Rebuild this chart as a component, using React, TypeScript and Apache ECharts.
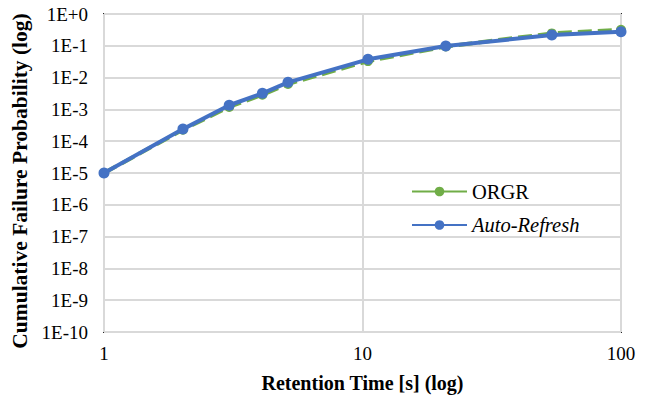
import React, { useEffect, useRef } from "react";
import * as echarts from "echarts";

const retentionTimes = [1, 2.02, 3.05, 4.1, 5.15, 10.5, 21, 54, 100];
const orgrValues = [1e-5, 2.3e-4, 1.2e-3, 2.9e-3, 6.3e-3, 0.033, 0.095, 0.245, 0.32];
const autoRefreshValues = [1e-5, 2.4e-4, 1.35e-3, 3.2e-3, 7.1e-3, 0.0376, 0.098, 0.218, 0.277];
const seriesNames = ["ORGR", "Auto-Refresh"];
const xTitle = "Retention Time [s] (log)";
const yTitle = "Cumulative Failure Probability (log)";

const FONT = "Liberation Serif";

export default function App() {
  const ref = useRef<HTMLDivElement>(null);
  useEffect(() => {
    if (!ref.current) return;
    const chart = echarts.init(ref.current, undefined, { renderer: "svg" });
    const fmtY = (v: number) => {
      const e = Math.round(Math.log10(v));
      return "1E" + (e >= 0 ? "+" : "") + e;
    };
    chart.setOption({
      animation: false,
      textStyle: { fontFamily: FONT },
      grid: {
        left: 104,
        right: 25,
        top: 14,
        bottom: 68,
        show: true,
        borderColor: "#262626",
        borderWidth: 2,
        backgroundColor: "transparent",
      },
      legend: {
        orient: "vertical",
        left: 406,
        top: 176,
        itemWidth: 55,
        itemHeight: 12,
        itemGap: 13,
        textStyle: { fontFamily: FONT, fontSize: 20.5, color: "#000" },
        data: [
          { name: seriesNames[0], lineStyle: { type: "solid" } },
          { name: seriesNames[1], textStyle: { fontStyle: "italic", fontFamily: FONT, fontSize: 20.5, color: "#000" } },
        ],
      },
      xAxis: {
        type: "log",
        logBase: 10,
        min: 1,
        max: 100,
        interval: 1,
        name: xTitle,
        nameLocation: "middle",
        nameGap: 41,
        nameTextStyle: { fontFamily: FONT, fontSize: 20, fontWeight: "bold", color: "#000" },
        axisLine: { show: false },
        axisTick: { show: false },
        axisLabel: { fontFamily: FONT, fontSize: 19, color: "#000", margin: 12 },
        splitLine: { show: true, lineStyle: { color: "#d9d9d9", width: 2 } },
      },
      yAxis: {
        type: "log",
        logBase: 10,
        min: 1e-10,
        max: 1,
        interval: 1,
        name: yTitle,
        nameLocation: "middle",
        nameGap: 70,
        nameTextStyle: { fontFamily: FONT, fontSize: 21.5, fontWeight: "bold", color: "#000", padding: [0, 16, 0, 0] },
        axisLine: { show: false },
        axisTick: { show: false },
        axisLabel: { fontFamily: FONT, fontSize: 19, color: "#000", margin: 16, formatter: fmtY },
        splitLine: { show: true, lineStyle: { color: "#d9d9d9", width: 2 } },
      },
      series: [
        {
          name: seriesNames[0],
          type: "line",
          data: retentionTimes.map((x, i) => [x, orgrValues[i]]),
          symbol: "circle",
          symbolSize: 10,
          lineStyle: { color: "#70ad47", width: 4, type: [14, 6] },
          itemStyle: { color: "#70ad47" },
          z: 2,
        },
        {
          name: seriesNames[1],
          type: "line",
          data: retentionTimes.map((x, i) => [x, autoRefreshValues[i]]),
          symbol: "circle",
          symbolSize: 11,
          lineStyle: { color: "#4472c4", width: 4 },
          itemStyle: { color: "#4472c4" },
          z: 3,
        },
      ],
    });
    return () => chart.dispose();
  }, []);
  return (
    <div
      ref={ref}
      style={{ position: "fixed", left: 0, top: 0, width: 646, height: 400, background: "#fff" }}
    />
  );
}
